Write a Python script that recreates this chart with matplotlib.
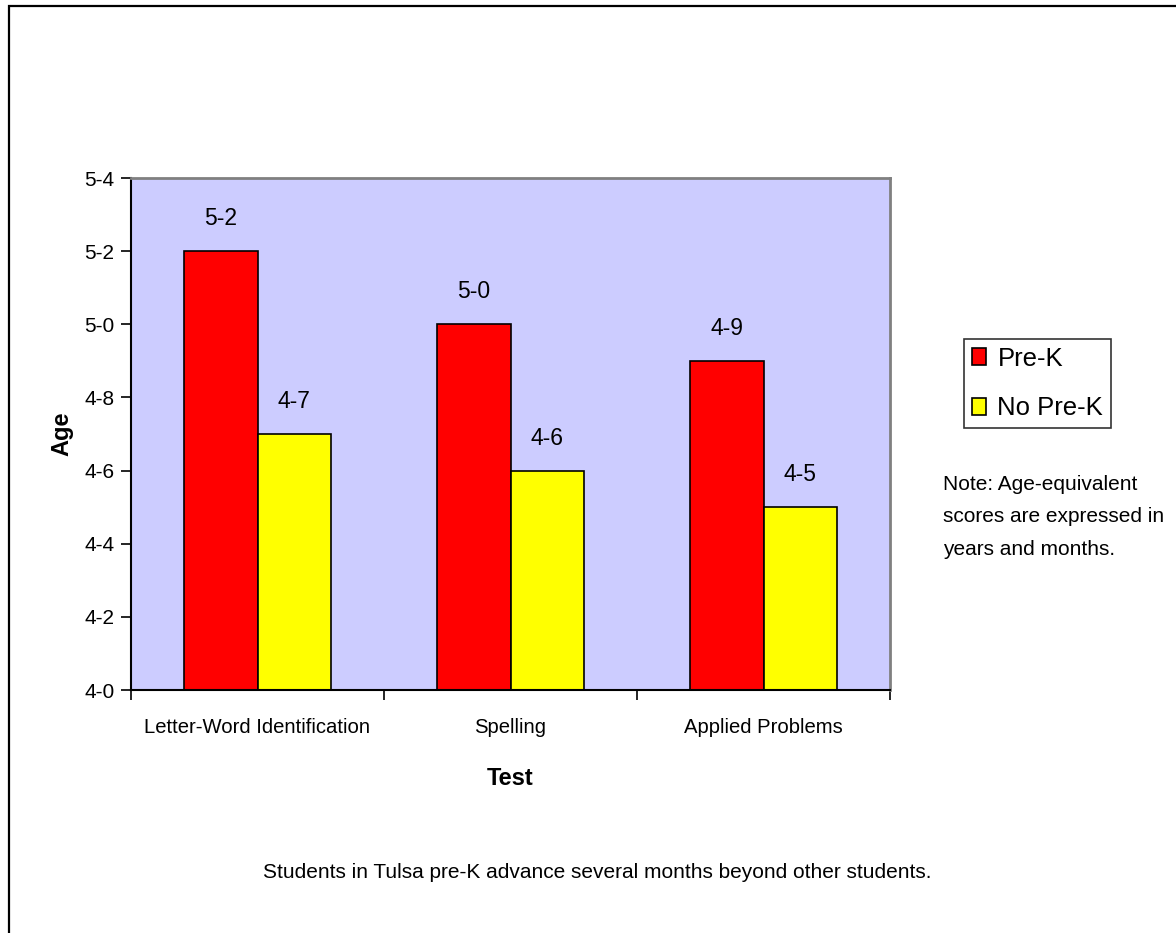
import numpy as np
import matplotlib.pyplot as plt
from matplotlib.patches import Rectangle

plt.rcParams['font.family'] = ['Liberation Sans', 'DejaVu Sans']

tests = ["Letter-Word Identification", "Spelling", "Applied Problems"]
prek = [5.2, 5.0, 4.9]
no_prek = [4.7, 4.6, 4.5]
yticks = [4.0, 4.2, 4.4, 4.6, 4.8, 5.0, 5.2, 5.4]


def age_fmt(v):
    return f"{v:.1f}".replace('.', '-')


fig = plt.figure(figsize=(11.76, 9.33), dpi=100)
fig.patch.set_facecolor('white')

# outer frame (right / bottom edges fall outside the picture)
fig.patches.append(Rectangle((9 / 1176, -0.02), 1.05, 1 - 6 / 933 + 0.02,
                             transform=fig.transFigure, fill=False,
                             edgecolor='black', linewidth=1.6))

ax = fig.add_axes([131 / 1176, 243 / 933, 759 / 1176, 512 / 933])
ax.set_facecolor('#ccccff')

x = np.arange(len(tests))
w = 0.29
b1 = ax.bar(x - w / 2, prek, w, color='#ff0000', edgecolor='black', linewidth=1.2, label='Pre-K')
b2 = ax.bar(x + w / 2, no_prek, w, color='#ffff00', edgecolor='black', linewidth=1.2, label='No Pre-K')

for bars, vals in ((b1, prek), (b2, no_prek)):
    for r, v in zip(bars, vals):
        ax.annotate(age_fmt(v), (r.get_x() + r.get_width() / 2, v),
                    xytext=(0, 15), textcoords='offset points',
                    ha='center', va='bottom', fontsize=16.5)

ax.set_xlim(-0.5, len(tests) - 0.5)
ax.set_ylim(4.0, 5.4)
ax.set_yticks(yticks)
ax.set_yticklabels([age_fmt(v) for v in yticks], fontsize=15)

ax.set_xticks(x)
ax.set_xticklabels(tests, fontsize=14.6)
ax.tick_params(axis='x', length=0, pad=20)
ax.set_xticks(np.arange(len(tests) + 1) - 0.5, minor=True)
ax.tick_params(axis='x', which='minor', length=7, width=1.2, direction='out')
ax.tick_params(axis='y', length=7, width=1.2, direction='out', pad=5)

for s in ('left', 'bottom'):
    ax.spines[s].set_color('black')
    ax.spines[s].set_linewidth(1.5)
for s in ('top', 'right'):
    ax.spines[s].set_color('#808080')
    ax.spines[s].set_linewidth(2)

ax.set_ylabel('Age', fontsize=17, fontweight='bold', labelpad=8)
ax.set_xlabel('Test', fontsize=17, fontweight='bold', labelpad=22)

leg = fig.legend(handles=[b1, b2], loc='upper left',
                 bbox_to_anchor=(964 / 1176, 1 - 339 / 933),
                 fontsize=18.5, frameon=True, fancybox=False,
                 edgecolor='black', handlelength=0.55, handleheight=0.62,
                 handletextpad=0.45, borderpad=0.3, labelspacing=1.0,
                 borderaxespad=0)
leg.get_frame().set_linewidth(1.2)

fig.text(943 / 1176, 1 - 475 / 933,
         "Note: Age-equivalent\nscores are expressed in\nyears and months.",
         fontsize=15, ha='left', va='top', linespacing=1.9)

fig.text(597 / 1176, 1 - 873 / 933,
         "Students in Tulsa pre-K advance several months beyond other students.",
         fontsize=15, ha='center', va='center')

fig.savefig('out.png', dpi=100)
